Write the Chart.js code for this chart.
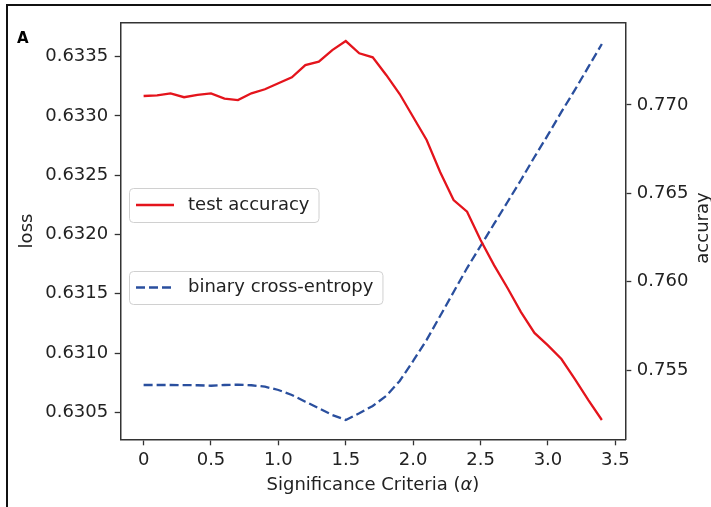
<!DOCTYPE html>
<html>
<head>
<meta charset="utf-8">
<script src="https://cdn.jsdelivr.net/npm/chart.js@4.4.1/dist/chart.umd.min.js"></script>
<style>
    html, body { margin: 0; padding: 0; background: #fff; }
    #wrap { position: relative; width: 711px; height: 507px; overflow: hidden; }
    #frame { position: absolute; left: 6px; top: 4px; width: 760px; height: 560px;
             border-left: 2px solid #111; border-top: 2px solid #111; }
    canvas { position: absolute; left: 0; top: 0; }
</style>
</head>
<body>
<div id="wrap">
    <div id="frame"></div>
    <canvas id="myChart" width="711" height="507"></canvas>
</div>
<script>
// significance criteria (alpha) sampled every 0.1
const alphas = [0, 0.1, 0.2, 0.3, 0.4, 0.5, 0.6, 0.7, 0.8, 0.9,
                1.0, 1.1, 1.2, 1.3, 1.4, 1.5, 1.6, 1.7, 1.8, 1.9,
                2.0, 2.1, 2.2, 2.3, 2.4, 2.5, 2.6, 2.7, 2.8, 2.9,
                3.0, 3.1, 3.2, 3.3, 3.4];

// right axis (accuracy)
const testAccuracy = [0.77051, 0.77055, 0.77066, 0.77044, 0.77057, 0.77066, 0.77036, 0.77028, 0.77066, 0.77089,
                      0.77123, 0.77157, 0.77226, 0.77245, 0.77311, 0.77362, 0.77293, 0.77270, 0.77170, 0.77062,
                      0.76932, 0.76802, 0.76621, 0.76462, 0.76396, 0.76236, 0.76094, 0.75964, 0.75828, 0.75710,
                      0.75639, 0.75562, 0.75449, 0.75330, 0.75217];

// left axis (loss)
const crossEntropy = [0.630730, 0.630730, 0.630730, 0.630729, 0.630728, 0.630724, 0.630730, 0.630733, 0.630728, 0.630716,
                      0.630688, 0.630646, 0.630589, 0.630534, 0.630477, 0.630435, 0.630492, 0.630553, 0.630638, 0.630764,
                      0.630933, 0.631111, 0.631312, 0.631515, 0.631717, 0.631903, 0.632089, 0.632274, 0.632460, 0.632654,
                      0.632840, 0.633034, 0.633220, 0.633414, 0.633607];

const xTicks = [0, 0.5, 1.0, 1.5, 2.0, 2.5, 3.0, 3.5];
const xTickLabels = ['0', '0.5', '1.0', '1.5', '2.0', '2.5', '3.0', '3.5'];
const lossTicks = [0.6305, 0.6310, 0.6315, 0.6320, 0.6325, 0.6330, 0.6335];
const accuracyTicks = [0.755, 0.760, 0.765, 0.770];

const FONT = "'DejaVu Sans', 'Liberation Sans', sans-serif";
const INK = '#222';
const SPINE = '#333';

function toPoints(xs, ys) {
    return xs.map((x, i) => ({ x: x, y: ys[i] }));
}

// matplotlib-like extras: top spine, two legends, right label, panel letter, x label
const extras = {
    id: 'extras',
    afterDraw(chart) {
        let ctx = chart.ctx;
        let area = chart.chartArea;
        ctx.save();

        // top spine
        ctx.strokeStyle = SPINE;
        ctx.lineWidth = 1.5;
        ctx.beginPath();
        ctx.moveTo(area.left, area.top);
        ctx.lineTo(area.right, area.top);
        ctx.stroke();

        // legends, one box per dataset
        ctx.font = '18px ' + FONT;
        let boxes = [{ top: 188, h: 34 }, { top: 271, h: 33 }];
        chart.data.datasets.forEach((ds, i) => {
            let b = boxes[i];
            let left = 129;
            let tw = ctx.measureText(ds.label).width;
            let w = 59 + tw + 9;
            ctx.fillStyle = 'rgba(255,255,255,0.8)';
            ctx.strokeStyle = '#d0d0d0';
            ctx.lineWidth = 1;
            ctx.beginPath();
            ctx.roundRect(left + 0.5, b.top + 0.5, w, b.h, 4);
            ctx.fill();
            ctx.stroke();
            let cy = b.top + b.h / 2;
            ctx.strokeStyle = ds.borderColor;
            ctx.lineWidth = ds.borderWidth;
            ctx.setLineDash(ds.borderDash || []);
            ctx.beginPath();
            ctx.moveTo(left + 7, cy);
            ctx.lineTo(left + 45, cy);
            ctx.stroke();
            ctx.setLineDash([]);
            ctx.fillStyle = INK;
            ctx.textAlign = 'left';
            ctx.textBaseline = 'middle';
            ctx.fillText(ds.label, left + 59, cy);
        });

        // right axis label (matplotlib reads it bottom to top)
        ctx.save();
        ctx.translate(708, 228);
        ctx.rotate(-Math.PI / 2);
        ctx.textAlign = 'center';
        ctx.textBaseline = 'alphabetic';
        ctx.fillStyle = INK;
        ctx.fillText('accuray', 0, 0);
        ctx.restore();

        // x axis label with italic alpha
        let parts = [['Significance Criteria (', 'normal'], ['\u03b1', 'italic'], [')', 'normal']];
        let total = 0;
        parts.forEach(p => {
            ctx.font = p[1] + ' 18px ' + FONT;
            total += ctx.measureText(p[0]).width;
        });
        let x = (area.left + area.right) / 2 - total / 2;
        ctx.textAlign = 'left';
        ctx.textBaseline = 'alphabetic';
        parts.forEach(p => {
            ctx.font = p[1] + ' 18px ' + FONT;
            ctx.fillText(p[0], x, 490);
            x += ctx.measureText(p[0]).width;
        });

        // panel letter
        ctx.font = 'bold 15px ' + FONT;
        ctx.fillStyle = '#000';
        ctx.fillText('A', 17, 43);

        ctx.restore();
    }
};

function noPadding(scale) {
    scale.paddingTop = 0;
    scale.paddingBottom = 0;
    scale.paddingLeft = 0;
    scale.paddingRight = 0;
}

let ctx = document.getElementById('myChart').getContext('2d');
window.myChart = new Chart(ctx, {
    type: 'line',
    data: {
        datasets: [{
            label: 'test accuracy',
            data: toPoints(alphas, testAccuracy),
            yAxisID: 'y1',
            borderColor: '#e4141c',
            borderWidth: 2.3,
            pointRadius: 0,
            tension: 0,
            fill: false
        }, {
            label: 'binary cross-entropy',
            data: toPoints(alphas, crossEntropy),
            yAxisID: 'y',
            borderColor: '#2a4f9e',
            borderWidth: 2.3,
            borderDash: [9, 4],
            pointRadius: 0,
            tension: 0,
            fill: false
        }]
    },
    options: {
        responsive: false,
        animation: false,
        devicePixelRatio: 1,
        layout: { padding: { top: 22.7, left: 0, right: 0, bottom: 0 } },
        plugins: {
            legend: { display: false },
            tooltip: { enabled: false }
        },
        scales: {
            x: {
                type: 'linear',
                min: -0.17,
                max: 3.574,
                afterBuildTicks: axis => { axis.ticks = xTicks.map(v => ({ value: v })); },
                afterFit: axis => { axis.height = 67.7; noPadding(axis); },
                ticks: {
                    font: { family: FONT, size: 18 },
                    color: INK,
                    padding: 4,
                    maxRotation: 0,
                    autoSkip: false,
                    callback: (v, i) => xTickLabels[i]
                },
                grid: { drawOnChartArea: false, drawTicks: true, tickLength: 6, tickWidth: 1.3, tickColor: SPINE },
                border: { display: true, color: SPINE, width: 1.5 }
            },
            y: {
                position: 'left',
                min: 0.630272,
                max: 0.633787,
                afterBuildTicks: axis => { axis.ticks = lossTicks.map(v => ({ value: v })); },
                afterFit: axis => { axis.width = 120.7; noPadding(axis); },
                ticks: {
                    font: { family: FONT, size: 18 },
                    color: INK,
                    padding: 6.5,
                    autoSkip: false,
                    callback: v => v.toFixed(4)
                },
                title: {
                    display: true,
                    text: 'loss',
                    font: { family: FONT, size: 18 },
                    color: INK,
                    padding: { top: 16.2, bottom: 0 }
                },
                grid: { drawOnChartArea: false, drawTicks: true, tickLength: 6, tickWidth: 1.3, tickColor: SPINE },
                border: { display: true, color: SPINE, width: 1.5 }
            },
            y1: {
                position: 'right',
                min: 0.751078,
                max: 0.774658,
                afterBuildTicks: axis => { axis.ticks = accuracyTicks.map(v => ({ value: v })); },
                afterFit: axis => { axis.width = 85.7; noPadding(axis); },
                ticks: {
                    font: { family: FONT, size: 18 },
                    color: INK,
                    padding: 5.5,
                    autoSkip: false,
                    callback: v => v.toFixed(3)
                },
                grid: { drawOnChartArea: false, drawTicks: true, tickLength: 6, tickWidth: 1.3, tickColor: SPINE },
                border: { display: true, color: SPINE, width: 1.5 }
            }
        }
    },
    plugins: [extras]
});
</script>
</body>
</html>
